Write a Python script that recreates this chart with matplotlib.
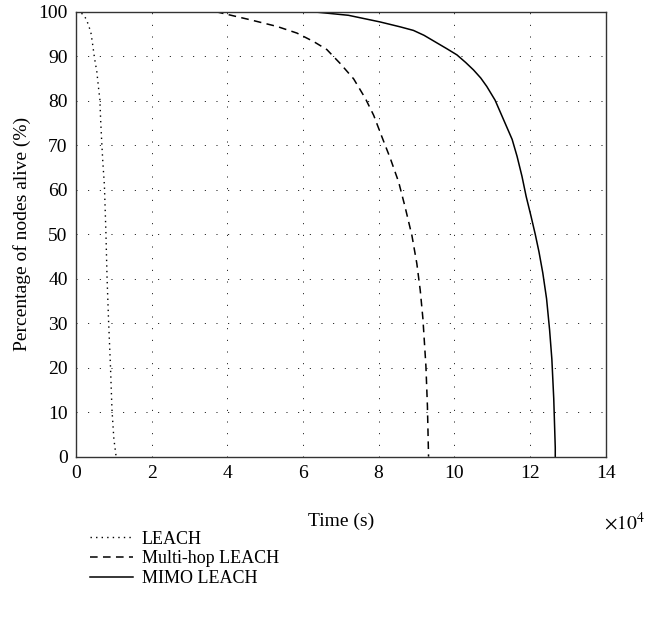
import matplotlib
matplotlib.use("Agg")
import matplotlib.pyplot as plt
import numpy as np
from matplotlib.ticker import FuncFormatter

plt.rcParams['font.family'] = ['Liberation Serif', 'DejaVu Serif']
plt.rcParams['mathtext.fontset'] = 'stix'

# time in units of 1e4 s, percentage of nodes alive
leach_t = [0.0, 0.18, 0.28, 0.33, 0.39, 0.44, 0.49, 0.55, 0.60, 0.63, 0.65, 0.68,
           0.71, 0.75, 0.79, 0.82, 0.86, 0.91, 0.95, 1.0, 1.06]
leach_p = [100, 99.5, 98.2, 96.9, 95.5, 92.6, 89.5, 86.5, 82.5, 80.3, 75.8, 70.6,
           66, 61, 50.4, 40.3, 30.6, 20.4, 10.6, 4, 0]

multi_t = [3.7, 4.6, 5.31, 5.84, 6.28, 6.63, 6.98, 7.34, 7.65, 7.87, 8.09, 8.31,
           8.53, 8.70, 8.88, 9.01, 9.10, 9.17, 9.25, 9.29, 9.32]
multi_p = [100, 98.2, 96.7, 95.2, 93.3, 91.5, 88.4, 84.9, 80.5, 76.7, 71.8, 67,
           61.7, 56.1, 49.7, 43.4, 37.4, 31.1, 20.4, 11.4, 0]

mimo_t = [6.25, 7.2, 8.04, 8.57, 8.92, 9.2, 9.5, 9.8, 10.07, 10.3, 10.51, 10.7, 10.86,
          11.08, 11.3, 11.53, 11.66, 11.79, 11.9, 12.03, 12.14, 12.24, 12.34, 12.44,
          12.52, 12.58, 12.63, 12.67, 12.67]
mimo_p = [100, 99.2, 97.7, 96.6, 95.8, 94.7, 93.2, 91.7, 90.3, 88.6, 86.9, 85.1, 83.2,
          80.1, 75.8, 71.3, 67.5, 63, 58.5, 54, 50, 46, 41.3, 35.5, 28.5, 21.9, 13, 2, 0]

scale = 1e4

fig = plt.figure(figsize=(6.64, 6.17), dpi=100)
ax = fig.add_axes([0.1145, 0.26, 0.7975, 0.721])

grid_style = dict(color='black', linewidth=0.7, linestyle=(0, (1, 11)))
l1, = ax.plot(np.array(leach_t) * scale, leach_p, color='black', lw=1.0, linestyle=(0, (1, 3)))
l2, = ax.plot(np.array(multi_t) * scale, multi_p, color='black', lw=1.1, linestyle=(0, (5, 3.5)))
l3, = ax.plot(np.array(mimo_t) * scale, mimo_p, color='black', lw=1.1, linestyle='-')

ax.set_xlim(0, 14e4)
ax.set_ylim(0, 100)
ax.set_xticks(np.arange(0, 14.1, 2) * scale)
ax.set_yticks(np.arange(0, 101, 10))
ax.xaxis.set_major_formatter(FuncFormatter(lambda v, p: '%g' % (v / scale)))
ax.grid(True, **grid_style)
ax.tick_params(length=0, labelsize=14, pad=6)
for s in ax.spines.values():
    s.set_linewidth(1.0)
    s.set_color('#333333')

ax.text(0.997, -0.148, r'$\times 10^4$', transform=ax.transAxes, fontsize=14,
        ha='left', va='center')

ax.set_xlabel('Time (s)', fontsize=14, labelpad=22)
ax.set_ylabel('Percentage of nodes alive (%)', fontsize=14, labelpad=5)

leg = fig.legend([l1, l2, l3], ['LEACH', 'Multi-hop LEACH', 'MIMO LEACH'],
                 loc='upper left', bbox_to_anchor=(0.135, 0.14), frameon=False,
                 fontsize=13, handlelength=2.4, handletextpad=0.5, labelspacing=0.15,
                 borderaxespad=0, borderpad=0)

fig.savefig('out.png', dpi=100)
